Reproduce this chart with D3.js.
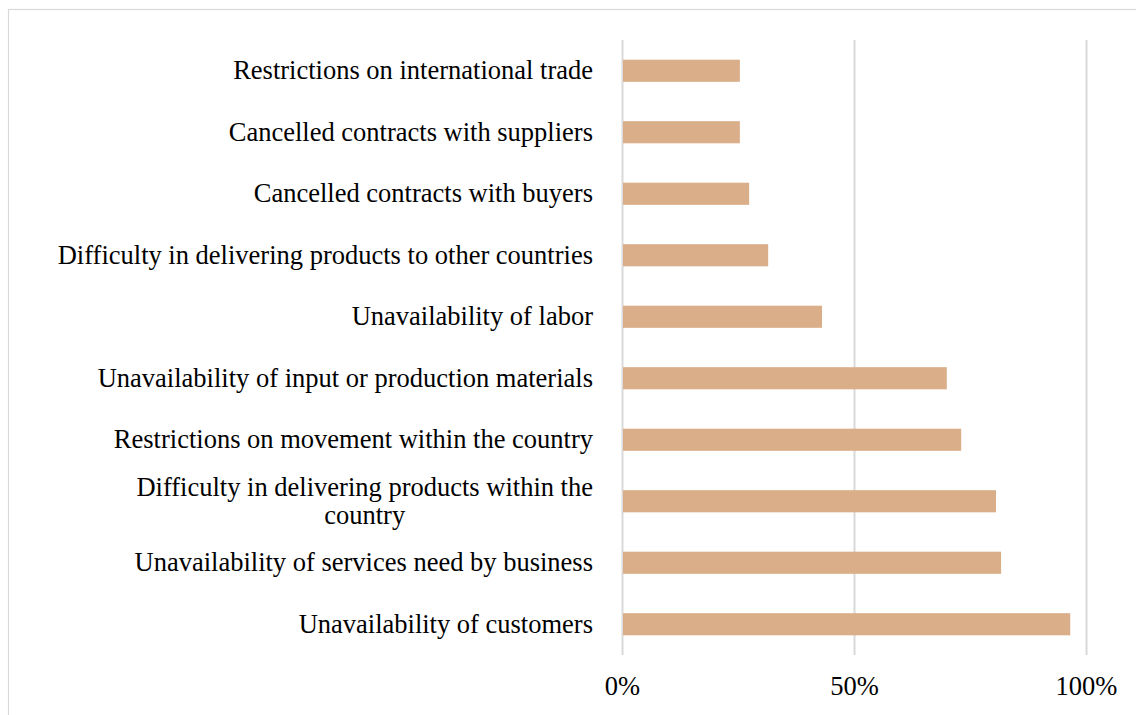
<!DOCTYPE html>
<html>
<head>
<meta charset="utf-8">
<script src="https://cdn.jsdelivr.net/npm/d3@7"></script>
<style>
  html, body { margin: 0; padding: 0; background: #fff; }
  svg { display: block; }
  text { font-family: "Liberation Serif", "Times New Roman", serif; fill: #000; }
</style>
</head>
<body>
<svg id="chart" width="1136" height="715"></svg>
<script>
// Share of businesses reporting each problem (top to bottom)
const categories = [
  "Restrictions on international trade",
  "Cancelled contracts with suppliers",
  "Cancelled contracts with buyers",
  "Difficulty in delivering products to other countries",
  "Unavailability of labor",
  "Unavailability of input or production materials",
  "Restrictions on movement within the country",
  "Difficulty in delivering products within the country",
  "Unavailability of services need by business",
  "Unavailability of customers"
];
const values = [25.4, 25.4, 27.4, 31.5, 43.1, 70.0, 73.1, 80.6, 81.7, 96.6];
const tickValues = [0, 50, 100];
// Labels that break onto two lines
const labelBreaks = {
  "Difficulty in delivering products within the country":
    ["Difficulty in delivering products within the", "country"]
};

const svg = d3.select("#chart");
const W = 1136, H = 715;
const fontSize = "26.5px";

// Outer chart border
svg.append("rect")
  .attr("x", 8.5).attr("y", 9.5)
  .attr("width", W + 10).attr("height", H + 10)
  .attr("fill", "#fff").attr("stroke", "#d9d9d9").attr("stroke-width", 1.2);

const plot = { left: 622, right: 1086, top: 40, bottom: 655 };

const x = d3.scaleLinear().domain([0, 100]).range([plot.left, plot.right]);
const y = d3.scaleBand().domain(categories).range([plot.top, plot.bottom])
  .paddingInner(0.64).paddingOuter(0.32);

// Vertical gridlines and percentage ticks
const xAxis = d3.axisBottom(x).tickValues(tickValues)
  .tickSize(-(plot.bottom - plot.top)).tickFormat(d => d + "%");
const gx = svg.append("g")
  .attr("transform", `translate(0,${plot.bottom})`)
  .call(xAxis);
gx.select(".domain").remove();
gx.selectAll(".tick line").attr("stroke", "#d9d9d9").attr("stroke-width", 2);
gx.selectAll(".tick text")
  .attr("y", 40).attr("dy", 0)
  .style("font-size", fontSize)
  .style("font-family", "'Liberation Serif', 'Times New Roman', serif")
  .attr("fill", "#000");

// Bars
svg.append("g").selectAll("rect")
  .data(values)
  .join("rect")
  .attr("x", x(0) + 1)
  .attr("y", (d, i) => y(categories[i]))
  .attr("width", d => x(d) - x(0) - 1)
  .attr("height", y.bandwidth())
  .attr("fill", "#daae88");

// Category labels: blocks right-aligned, lines centred within a block
const labelRight = 593;
const lineH = 28;
const lg = svg.append("g").style("font-size", fontSize);

categories.forEach(cat => {
  const cy = y(cat) + y.bandwidth() / 2;
  const lines = labelBreaks[cat] || [cat];
  const probe = lg.append("text");
  const widths = lines.map(l => { probe.text(l); return probe.node().getComputedTextLength(); });
  probe.remove();
  const blockW = d3.max(widths);
  const cx = labelRight - blockW / 2;
  const t = lg.append("text").attr("text-anchor", "middle");
  lines.forEach((l, i) => {
    t.append("tspan")
      .attr("x", cx)
      .attr("y", cy + (i - (lines.length - 1) / 2) * lineH)
      .attr("dy", "0.33em")
      .text(l);
  });
});
</script>
</body>
</html>
